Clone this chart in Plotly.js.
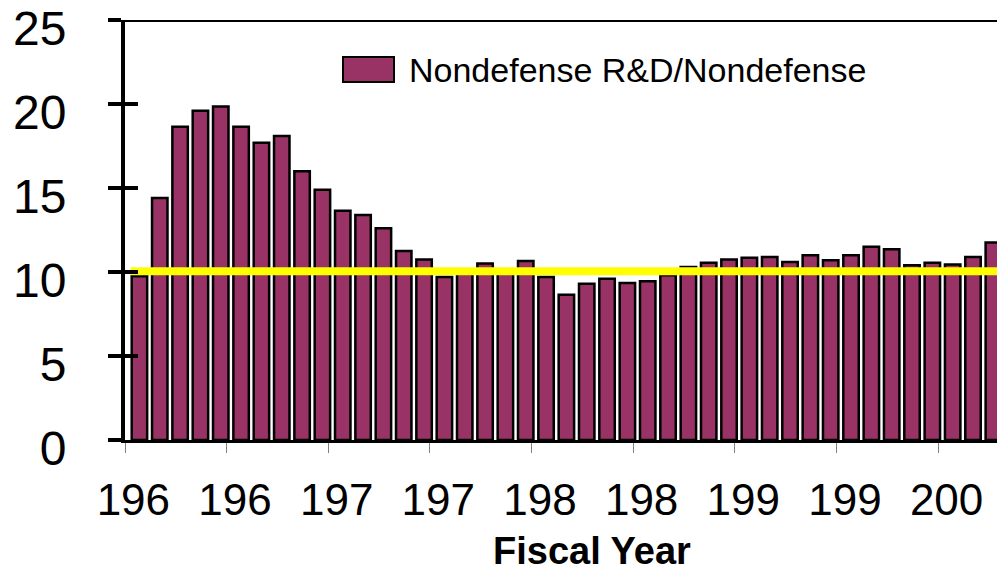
<!DOCTYPE html>
<html><head><meta charset="utf-8">
<script src="https://cdn.plot.ly/plotly-3.0.1.min.js"></script>
<style>html,body{margin:0;padding:0;background:#fff}#chart{width:997px;height:571px}</style>
</head><body><div id="chart"></div>
<script>
// Fiscal years (categories)
const years = [1960,1961,1962,1963,1964,1965,1966,1967,1968,1969,
               1970,1971,1972,1973,1974,1975,1976,1977,1978,1979,
               1980,1981,1982,1983,1984,1985,1986,1987,1988,1989,
               1990,1991,1992,1993,1994,1995,1996,1997,1998,1999,
               2000,2001,2002];
// Nondefense R&D / Nondefense (percent)
const ratio = [9.75,14.4,18.65,19.6,19.85,18.65,17.7,18.1,16.0,14.9,
               13.65,13.4,12.6,11.25,10.75,9.7,10.1,10.5,10.1,10.65,
               9.7,8.65,9.3,9.6,9.35,9.45,9.8,10.3,10.55,10.75,
               10.85,10.9,10.6,11.0,10.7,11.0,11.5,11.35,10.4,10.55,
               10.45,10.9,11.75];
// Reference level (yellow line)
const refLevel = 10.05;
// Labelled years and their (truncated) tick labels
const labelYears = [1960,1965,1970,1975,1980,1985,1990,1995,2000];
const tickLabels = ["196","196","197","197","198","198","199","199","200"];
const yTicks = [0,5,10,15,20,25];
const seriesName = "Nondefense R&D/Nondefense";
const xTitle = "Fiscal Year";

const FONT = "Liberation Sans, Arial, sans-serif";
const xr = [1959.29, 2002.18];

const bars = {
  type: 'bar', x: years, y: ratio, name: seriesName,
  width: 0.76,
  marker: {color: '#993366', line: {color: '#000', width: 2.5}},
  xaxis: 'x', yaxis: 'y', hoverinfo: 'x+y'
};
const refTrace = {
  type: 'scatter', mode: 'lines',
  x: [years[0] - 0.43, years[years.length - 1] + 0.5],
  y: [refLevel, refLevel],
  line: {color: '#FFFF00', width: 8},
  xaxis: 'x2', yaxis: 'y2', showlegend: false, hoverinfo: 'skip'
};

const layout = {
  width: 997, height: 571,
  margin: {l: 125, r: 0, t: 20, b: 131, pad: 0},
  paper_bgcolor: '#fff', plot_bgcolor: '#fff',
  showlegend: false,
  font: {family: FONT, color: '#000'},
  xaxis: {
    range: xr, showgrid: false, zeroline: false,
    tickmode: 'array',
    tickvals: labelYears.map(y => y - 0.71),
    ticktext: labelYears.map(() => ''),
    ticks: 'outside', ticklen: 10, tickwidth: 1, tickcolor: '#808080',
    showline: true, linecolor: '#000', linewidth: 3
  },
  xaxis2: {
    overlaying: 'x', anchor: 'y2', range: xr, showgrid: false, zeroline: false,
    tickmode: 'array',
    tickvals: labelYears.map(y => y - 0.3),
    ticktext: tickLabels,
    ticks: '', showline: false,
    tickfont: {size: 44, family: FONT, color: '#000'},
    ticklabelstandoff: 30
  },
  yaxis: {
    range: [0, 25], showgrid: false, zeroline: false,
    tickmode: 'array', tickvals: yTicks,
    ticks: 'outside', ticklen: 13, tickwidth: 4, tickcolor: '#000',
    showline: true, linecolor: '#000', linewidth: 4,
    tickfont: {size: 48, family: FONT, color: '#000'},
    ticklabelshift: 8, ticklabelstandoff: 32, ticklabeloverflow: 'allow'
  },
  yaxis2: {
    overlaying: 'y', anchor: 'x2', side: 'left', range: [0, 25],
    showgrid: false, zeroline: false,
    tickmode: 'array', tickvals: yTicks,
    ticks: 'inside', ticklen: 13, tickwidth: 4, tickcolor: '#000',
    showticklabels: false, showline: false
  },
  shapes: [
    {type: 'line', xref: 'paper', yref: 'y', x0: 0, x1: 1, y0: 25, y1: 25,
     line: {color: '#000', width: 4}},
    {type: 'rect', xref: 'paper', yref: 'paper',
     x0: (343 - 125) / 872, x1: (394 - 125) / 872,
     y0: (440 - 82) / 420, y1: (440 - 57) / 420,
     fillcolor: '#993366', line: {color: '#000', width: 2}}
  ],
  annotations: [
    {xref: 'paper', yref: 'paper', x: (407 - 125) / 872, y: (440 - 70) / 420,
     xanchor: 'left', yanchor: 'middle', showarrow: false, text: seriesName,
     font: {size: 34, family: FONT, color: '#000'}},
    {xref: 'paper', yref: 'paper', x: (592 - 125) / 872, y: (440 - 551) / 420,
     xanchor: 'center', yanchor: 'middle', showarrow: false,
     text: '<b>' + xTitle + '</b>',
     font: {size: 38, family: FONT, color: '#000'}}
  ]
};

Plotly.newPlot('chart', [bars, refTrace], layout, {displayModeBar: false, staticPlot: true});
</script>
</body></html>
